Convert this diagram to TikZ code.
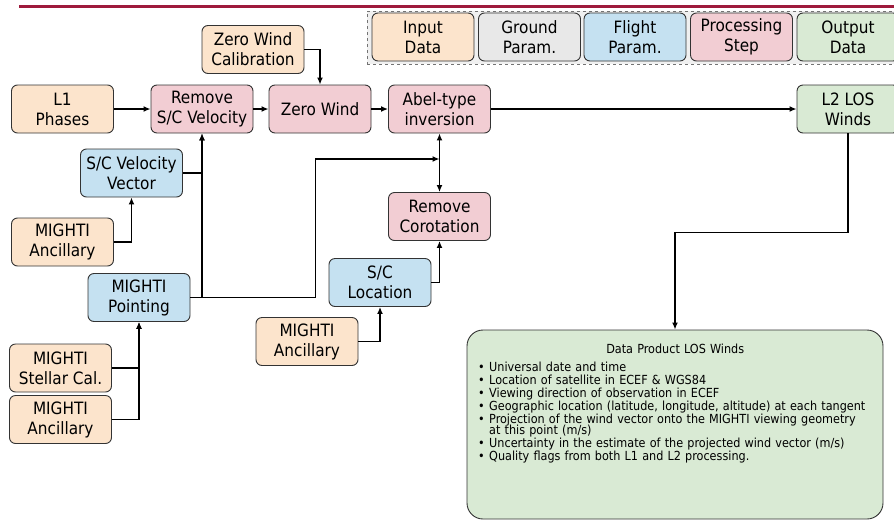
\documentclass[tikz,border=0pt]{standalone}
\usepackage{fontspec}
\setmainfont{DejaVu Sans Condensed}
\usetikzlibrary{arrows.meta}

\definecolor{indatac}{HTML}{FCE4CC}
\definecolor{groundc}{HTML}{E8E8E8}
\definecolor{flightc}{HTML}{C5E1F1}
\definecolor{procc}{HTML}{F2CDD3}
\definecolor{outdatac}{HTML}{D9EAD4}
\definecolor{rulec}{HTML}{9E1A3C}

\newcommand{\dpfont}{\fontsize{12.5}{10.8}\selectfont\lineskiplimit=-20pt}
\newcommand{\dpitem}[1]{\hangindent=11pt\hangafter=1\noindent\makebox[11pt][l]{\textbullet}#1\par}

\begin{document}
\begin{tikzpicture}
  [x=1pt,y=-1pt,>={Latex[length=7pt,width=6pt]},
   box/.style={draw=black!80,line width=0.9pt,rounded corners=6pt,
     minimum width=102pt,minimum height=48pt,inner sep=1pt,align=center,
     font=\fontsize{17}{20}\selectfont},
   indata/.style={box,fill=indatac},
   ground/.style={box,fill=groundc},
   flight/.style={box,fill=flightc},
   proc/.style={box,fill=procc},
   outdata/.style={box,fill=outdatac},
   legframe/.style={draw=black!55,dashed,line width=0.9pt,fill=black!6,
     minimum width=533pt,minimum height=53pt},
   dpbox/.style={draw=black!80,line width=0.9pt,rounded corners=16pt,
     fill=outdatac,minimum width=416pt,minimum height=189pt},
   dptext/.style={anchor=north west,inner sep=0pt,text width=394pt,
     align=left,font=\dpfont},
   conn/.style={line width=1.8pt}]
  \useasboundingbox (0,0) rectangle (894,520);

  % title rule and legend
  \draw[rulec,line width=2.8pt] (19,6.5) -- (894,6.5);
  \node[legframe] (leg) at (633.5,37.5) {};
  \node[indata]  (kin)   at (423,37)   {Input\\Data};
  \node[ground]  (kgnd)  at (529.5,37) {Ground\\Param.};
  \node[flight]  (kflt)  at (635,37)   {Flight\\Param.};
  \node[proc]    (kproc) at (741.5,37) {Processing\\Step};
  \node[outdata] (kout)  at (848,37)   {Output\\Data};

  % main chain
  \node[indata]  (zwcal) at (253,49.5) {Zero Wind\\Calibration};
  \node[indata]  (l1)    at (62.5,109) {L1\\Phases};
  \node[proc]    (rsv)   at (202,109)  {Remove\\S/C Velocity};
  \node[proc]    (zw)    at (320,109)  {Zero Wind};
  \node[proc]    (abel)  at (439.5,109) {Abel-type\\inversion};
  \node[outdata] (l2)    at (848,109)  {L2 LOS\\Winds};

  % inputs
  \node[flight]  (svv)     at (131.5,173) {S/C Velocity\\Vector};
  \node[indata]  (anca)    at (62.5,242)  {MIGHTI\\Ancillary};
  \node[flight]  (point)   at (139,297.5) {MIGHTI\\Pointing};
  \node[indata]  (stellar) at (60.5,368)  {MIGHTI\\Stellar Cal.};
  \node[indata]  (ancb)    at (60.5,419.5) {MIGHTI\\Ancillary};
  \node[proc]    (corot)   at (439.5,216.5) {Remove\\Corotation};
  \node[flight]  (scloc)   at (380,282.5) {S/C\\Location};
  \node[indata]  (ancc)    at (307,341.5) {MIGHTI\\Ancillary};
  \coordinate (abelin) at (439.5,159);

  % output product
  \node[dpbox] (dp) at (675,424.5) {};
  \node[dptext] (dplist) at (478,344) {\setlength{\parskip}{2.3pt}%
    \makebox[\linewidth]{Data Product LOS Winds}\par\vspace{4.5pt}
    \dpitem{Universal date and time}
    \dpitem{Location of satellite in ECEF \& WGS84}
    \dpitem{Viewing direction of observation in ECEF}
    \dpitem{Geographic location (latitude, longitude, altitude) at each tangent}
    \dpitem{Projection of the wind vector onto the MIGHTI viewing geometry\newline at this point (m/s)}
    \dpitem{Uncertainty in the estimate of the projected wind vector (m/s)}
    \dpitem{Quality flags from both L1 and L2 processing.}};

  \foreach \from/\to in {l1/rsv,rsv/zw,zw/abel,abel/l2}
    \draw[conn,->] (\from) -- (\to);
  \foreach \from/\to in {svv/rsv,point/rsv,anca/svv,stellar/point,
      ancb/point,scloc/corot,ancc/scloc}
    \draw[conn,->] (\from.east) -| (\to.south);
  \draw[conn,->] (zwcal.east) -| (zw.north);
  \draw[conn,<->] (abel) -- (corot);
  \draw[conn,->] (point.east) -- ++(125,0) |- (abelin);
  \draw[conn,->] (l2.south) -- ++(0,99) -| (dp.north);
\end{tikzpicture}
\end{document}
